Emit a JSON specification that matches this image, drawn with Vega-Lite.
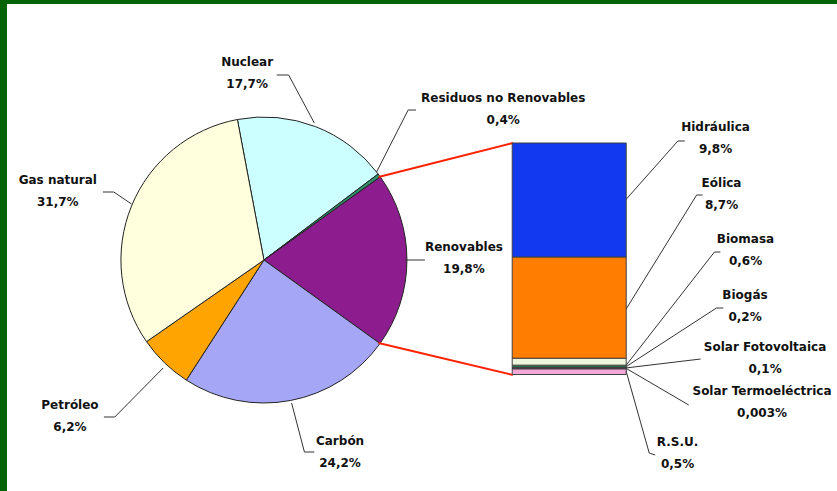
{
  "$schema": "https://vega.github.io/schema/vega-lite/v6.json",
  "width": 830,
  "height": 487,
  "autosize": {"type": "none"},
  "padding": {"left": 7, "top": 4, "right": 0, "bottom": 0},
  "background": "#066306",
  "config": {
    "view": {"fill": "white", "stroke": null},
    "axis": {"disable": true},
    "legend": {"disable": true},
    "text": {"font": "DejaVu Sans", "fontWeight": "bold", "fontSize": 12, "lineBreak": "\n", "lineHeight": 22, "align": "center", "baseline": "middle", "color": "#111111"}
  },
  "datasets": {
    "pie": [
      {"name": "Nuclear", "pct": 17.7, "ord": 1, "label": "Nuclear\n17,7%"},
      {"name": "Residuos no Renovables", "pct": 0.4, "ord": 2, "label": "Residuos no Renovables\n0,4%"},
      {"name": "Renovables", "pct": 19.8, "ord": 3, "label": "Renovables\n19,8%"},
      {"name": "Carbón", "pct": 24.2, "ord": 4, "label": "Carbón\n24,2%"},
      {"name": "Petróleo", "pct": 6.2, "ord": 5, "label": "Petróleo\n6,2%"},
      {"name": "Gas natural", "pct": 31.7, "ord": 6, "label": "Gas natural\n31,7%"}
    ],
    "bar": [
      {"name": "R.S.U.", "pct": 0.5, "ord": 1, "label": "R.S.U.\n0,5%"},
      {"name": "Solar Termoeléctrica", "pct": 0.003, "ord": 2, "label": "Solar Termoeléctrica\n0,003%"},
      {"name": "Solar Fotovoltaica", "pct": 0.1, "ord": 3, "label": "Solar Fotovoltaica\n0,1%"},
      {"name": "Biogás", "pct": 0.2, "ord": 4, "label": "Biogás\n0,2%"},
      {"name": "Biomasa", "pct": 0.6, "ord": 5, "label": "Biomasa\n0,6%"},
      {"name": "Eólica", "pct": 8.7, "ord": 6, "label": "Eólica\n8,7%"},
      {"name": "Hidráulica", "pct": 9.8, "ord": 7, "label": "Hidráulica\n9,8%"}
    ]
  },
  "resolve": {"scale": {"y": "independent", "color": "independent"}},
  "layer": [
    {
      "layer": [
        {
          "data": {"name": "pie"},
          "mark": {"type": "arc", "outerRadius": 143, "stroke": "#222222", "strokeWidth": 1},
          "encoding": {
            "x": {"datum": 262, "type": "quantitative", "scale": {"domain": [7, 837], "nice": false, "zero": false}, "axis": null},
            "y": {"datum": 260, "type": "quantitative", "scale": {"domain": [4, 491], "nice": false, "zero": false, "reverse": true}, "axis": null},
            "theta": {"field": "pct", "type": "quantitative", "stack": true, "scale": {"range": [-0.18675, 6.09644]}},
            "order": {"field": "ord", "type": "quantitative"},
            "color": {
              "field": "name", "type": "nominal", "legend": null,
              "scale": {
                "domain": ["Nuclear", "Residuos no Renovables", "Renovables", "Carbón", "Petróleo", "Gas natural"],
                "range": ["#ccffff", "#2f8f6a", "#8d1c8e", "#a6a6f6", "#ffa400", "#ffffdd"]
              }
            }
          }
        },
        {
          "data": {"name": "pie"},
          "mark": {"type": "text", "radius": 200, "dx": -89, "dy": -11},
          "encoding": {
            "x": {"datum": 262, "type": "quantitative"},
            "y": {"datum": 260, "type": "quantitative"},
            "theta": {"field": "pct", "type": "quantitative", "stack": true},
            "order": {"field": "ord", "type": "quantitative"},
            "detail": {"field": "name"},
            "text": {"condition": {"test": "datum.name === 'Nuclear'", "field": "label"}, "value": ""}
          }
        },
        {
          "data": {"name": "pie"},
          "mark": {"type": "text", "radius": 200, "dx": 78, "dy": -44},
          "encoding": {
            "x": {"datum": 262, "type": "quantitative"},
            "y": {"datum": 260, "type": "quantitative"},
            "theta": {"field": "pct", "type": "quantitative", "stack": true},
            "order": {"field": "ord", "type": "quantitative"},
            "detail": {"field": "name"},
            "text": {"condition": {"test": "datum.name === 'Residuos no Renovables'", "field": "label"}, "value": ""}
          }
        },
        {
          "data": {"name": "pie"},
          "mark": {"type": "text", "radius": 200, "dx": 0, "dy": -13},
          "encoding": {
            "x": {"datum": 262, "type": "quantitative"},
            "y": {"datum": 260, "type": "quantitative"},
            "theta": {"field": "pct", "type": "quantitative", "stack": true},
            "order": {"field": "ord", "type": "quantitative"},
            "detail": {"field": "name"},
            "text": {"condition": {"test": "datum.name === 'Renovables'", "field": "label"}, "value": ""}
          }
        },
        {
          "data": {"name": "pie"},
          "mark": {"type": "text", "radius": 200, "dx": 39, "dy": -16},
          "encoding": {
            "x": {"datum": 262, "type": "quantitative"},
            "y": {"datum": 260, "type": "quantitative"},
            "theta": {"field": "pct", "type": "quantitative", "stack": true},
            "order": {"field": "ord", "type": "quantitative"},
            "detail": {"field": "name"},
            "text": {"condition": {"test": "datum.name === 'Carbón'", "field": "label"}, "value": ""}
          }
        },
        {
          "data": {"name": "pie"},
          "mark": {"type": "text", "radius": 200, "dx": -55, "dy": 1},
          "encoding": {
            "x": {"datum": 262, "type": "quantitative"},
            "y": {"datum": 260, "type": "quantitative"},
            "theta": {"field": "pct", "type": "quantitative", "stack": true},
            "order": {"field": "ord", "type": "quantitative"},
            "detail": {"field": "name"},
            "text": {"condition": {"test": "datum.name === 'Petróleo'", "field": "label"}, "value": ""}
          }
        },
        {
          "data": {"name": "pie"},
          "mark": {"type": "text", "radius": 200, "dx": -21, "dy": -4},
          "encoding": {
            "x": {"datum": 262, "type": "quantitative"},
            "y": {"datum": 260, "type": "quantitative"},
            "theta": {"field": "pct", "type": "quantitative", "stack": true},
            "order": {"field": "ord", "type": "quantitative"},
            "detail": {"field": "name"},
            "text": {"condition": {"test": "datum.name === 'Gas natural'", "field": "label"}, "value": ""}
          }
        },
        {"data": {"name": "pie"}, "transform": [{"filter": "datum.name === 'Renovables'"}], "mark": {"type": "rule", "color": "#ff2200", "strokeWidth": 2}, "encoding": {"x": {"datum": 378, "type": "quantitative"}, "y": {"datum": 177, "type": "quantitative"}, "x2": {"datum": 514}, "y2": {"datum": 143}}},
        {"data": {"name": "pie"}, "transform": [{"filter": "datum.name === 'Renovables'"}], "mark": {"type": "rule", "color": "#ff2200", "strokeWidth": 2}, "encoding": {"x": {"datum": 378, "type": "quantitative"}, "y": {"datum": 343, "type": "quantitative"}, "x2": {"datum": 514}, "y2": {"datum": 375}}},
        {"data": {"name": "pie"}, "transform": [{"filter": "datum.name === 'Nuclear'"}], "mark": {"type": "rule", "color": "#333333"}, "encoding": {"x": {"datum": 313, "type": "quantitative"}, "y": {"datum": 123, "type": "quantitative"}, "x2": {"datum": 287}, "y2": {"datum": 75}}},
        {"data": {"name": "pie"}, "transform": [{"filter": "datum.name === 'Nuclear'"}], "mark": {"type": "rule", "color": "#333333"}, "encoding": {"x": {"datum": 287, "type": "quantitative"}, "y": {"datum": 75, "type": "quantitative"}, "x2": {"datum": 275}, "y2": {"datum": 75}}},
        {"data": {"name": "pie"}, "transform": [{"filter": "datum.name === 'Residuos no Renovables'"}], "mark": {"type": "rule", "color": "#333333"}, "encoding": {"x": {"datum": 376, "type": "quantitative"}, "y": {"datum": 172, "type": "quantitative"}, "x2": {"datum": 408}, "y2": {"datum": 110}}},
        {"data": {"name": "pie"}, "transform": [{"filter": "datum.name === 'Residuos no Renovables'"}], "mark": {"type": "rule", "color": "#333333"}, "encoding": {"x": {"datum": 408, "type": "quantitative"}, "y": {"datum": 110, "type": "quantitative"}, "x2": {"datum": 416}, "y2": {"datum": 110}}},
        {"data": {"name": "pie"}, "transform": [{"filter": "datum.name === 'Renovables'"}], "mark": {"type": "rule", "color": "#333333"}, "encoding": {"x": {"datum": 405, "type": "quantitative"}, "y": {"datum": 260, "type": "quantitative"}, "x2": {"datum": 425}, "y2": {"datum": 260}}},
        {"data": {"name": "pie"}, "transform": [{"filter": "datum.name === 'Carbón'"}], "mark": {"type": "rule", "color": "#333333"}, "encoding": {"x": {"datum": 290, "type": "quantitative"}, "y": {"datum": 403, "type": "quantitative"}, "x2": {"datum": 303}, "y2": {"datum": 452}}},
        {"data": {"name": "pie"}, "transform": [{"filter": "datum.name === 'Carbón'"}], "mark": {"type": "rule", "color": "#333333"}, "encoding": {"x": {"datum": 303, "type": "quantitative"}, "y": {"datum": 452, "type": "quantitative"}, "x2": {"datum": 313}, "y2": {"datum": 452}}},
        {"data": {"name": "pie"}, "transform": [{"filter": "datum.name === 'Petróleo'"}], "mark": {"type": "rule", "color": "#333333"}, "encoding": {"x": {"datum": 160, "type": "quantitative"}, "y": {"datum": 368, "type": "quantitative"}, "x2": {"datum": 111}, "y2": {"datum": 417}}},
        {"data": {"name": "pie"}, "transform": [{"filter": "datum.name === 'Petróleo'"}], "mark": {"type": "rule", "color": "#333333"}, "encoding": {"x": {"datum": 111, "type": "quantitative"}, "y": {"datum": 417, "type": "quantitative"}, "x2": {"datum": 100}, "y2": {"datum": 417}}},
        {"data": {"name": "pie"}, "transform": [{"filter": "datum.name === 'Gas natural'"}], "mark": {"type": "rule", "color": "#333333"}, "encoding": {"x": {"datum": 128, "type": "quantitative"}, "y": {"datum": 204, "type": "quantitative"}, "x2": {"datum": 110}, "y2": {"datum": 192}}},
        {"data": {"name": "pie"}, "transform": [{"filter": "datum.name === 'Gas natural'"}], "mark": {"type": "rule", "color": "#333333"}, "encoding": {"x": {"datum": 110, "type": "quantitative"}, "y": {"datum": 192, "type": "quantitative"}, "x2": {"datum": 99}, "y2": {"datum": 192}}},
        {"data": {"name": "bar"}, "transform": [{"filter": "datum.name === 'Hidráulica'"}], "mark": {"type": "rule", "color": "#333333"}, "encoding": {"x": {"datum": 628, "type": "quantitative"}, "y": {"datum": 200, "type": "quantitative"}, "x2": {"datum": 681}, "y2": {"datum": 141}}},
        {"data": {"name": "bar"}, "transform": [{"filter": "datum.name === 'Hidráulica'"}], "mark": {"type": "rule", "color": "#333333"}, "encoding": {"x": {"datum": 681, "type": "quantitative"}, "y": {"datum": 141, "type": "quantitative"}, "x2": {"datum": 688}, "y2": {"datum": 141}}},
        {"data": {"name": "bar"}, "transform": [{"filter": "datum.name === 'Eólica'"}], "mark": {"type": "rule", "color": "#333333"}, "encoding": {"x": {"datum": 628, "type": "quantitative"}, "y": {"datum": 310, "type": "quantitative"}, "x2": {"datum": 700}, "y2": {"datum": 195}}},
        {"data": {"name": "bar"}, "transform": [{"filter": "datum.name === 'Eólica'"}], "mark": {"type": "rule", "color": "#333333"}, "encoding": {"x": {"datum": 700, "type": "quantitative"}, "y": {"datum": 195, "type": "quantitative"}, "x2": {"datum": 706}, "y2": {"datum": 195}}},
        {"data": {"name": "bar"}, "transform": [{"filter": "datum.name === 'Biomasa'"}], "mark": {"type": "rule", "color": "#333333"}, "encoding": {"x": {"datum": 628, "type": "quantitative"}, "y": {"datum": 366, "type": "quantitative"}, "x2": {"datum": 718}, "y2": {"datum": 252}}},
        {"data": {"name": "bar"}, "transform": [{"filter": "datum.name === 'Biomasa'"}], "mark": {"type": "rule", "color": "#333333"}, "encoding": {"x": {"datum": 718, "type": "quantitative"}, "y": {"datum": 252, "type": "quantitative"}, "x2": {"datum": 724}, "y2": {"datum": 252}}},
        {"data": {"name": "bar"}, "transform": [{"filter": "datum.name === 'Biogás'"}], "mark": {"type": "rule", "color": "#333333"}, "encoding": {"x": {"datum": 628, "type": "quantitative"}, "y": {"datum": 367, "type": "quantitative"}, "x2": {"datum": 720}, "y2": {"datum": 308}}},
        {"data": {"name": "bar"}, "transform": [{"filter": "datum.name === 'Biogás'"}], "mark": {"type": "rule", "color": "#333333"}, "encoding": {"x": {"datum": 720, "type": "quantitative"}, "y": {"datum": 308, "type": "quantitative"}, "x2": {"datum": 727}, "y2": {"datum": 308}}},
        {"data": {"name": "bar"}, "transform": [{"filter": "datum.name === 'Solar Fotovoltaica'"}], "mark": {"type": "rule", "color": "#333333"}, "encoding": {"x": {"datum": 628, "type": "quantitative"}, "y": {"datum": 368, "type": "quantitative"}, "x2": {"datum": 704}, "y2": {"datum": 359}}},
        {"data": {"name": "bar"}, "transform": [{"filter": "datum.name === 'Solar Termoeléctrica'"}], "mark": {"type": "rule", "color": "#333333"}, "encoding": {"x": {"datum": 628, "type": "quantitative"}, "y": {"datum": 368, "type": "quantitative"}, "x2": {"datum": 692}, "y2": {"datum": 405}}},
        {"data": {"name": "bar"}, "transform": [{"filter": "datum.name === 'R.S.U.'"}], "mark": {"type": "rule", "color": "#333333"}, "encoding": {"x": {"datum": 628, "type": "quantitative"}, "y": {"datum": 369, "type": "quantitative"}, "x2": {"datum": 652}, "y2": {"datum": 453}}},
        {"data": {"name": "bar"}, "transform": [{"filter": "datum.name === 'R.S.U.'"}], "mark": {"type": "rule", "color": "#333333"}, "encoding": {"x": {"datum": 652, "type": "quantitative"}, "y": {"datum": 453, "type": "quantitative"}, "x2": {"datum": 658}, "y2": {"datum": 455}}}
      ]
    },
    {
      "layer": [
        {
          "data": {"name": "bar"},
          "mark": {"type": "bar", "orient": "vertical", "width": 114, "stroke": "#404040", "strokeWidth": 1},
          "encoding": {
            "x": {"datum": 571, "type": "quantitative"},
            "y": {"field": "pct", "type": "quantitative", "stack": "zero", "scale": {"domain": [-10.016, 31.852], "nice": false, "zero": false}, "axis": null},
            "order": {"field": "ord", "type": "quantitative"},
            "color": {
              "field": "name", "type": "nominal", "legend": null,
              "scale": {
                "domain": ["R.S.U.", "Solar Termoeléctrica", "Solar Fotovoltaica", "Biogás", "Biomasa", "Eólica", "Hidráulica"],
                "range": ["#f5a8d8", "#cc3333", "#7a2589", "#2a6e46", "#eef7dd", "#ff7d00", "#1238f0"]
              }
            }
          }
        },
        {"data": {"name": "bar"}, "mark": {"type": "text", "dx": 90, "dy": -72.5}, "encoding": {"x": {"datum": 628, "type": "quantitative"}, "y": {"field": "pct", "type": "quantitative", "stack": "zero", "bandPosition": 0.5}, "order": {"field": "ord", "type": "quantitative"}, "detail": {"field": "name"}, "text": {"condition": {"test": "datum.name === 'Hidráulica'", "field": "label"}, "value": ""}}},
        {"data": {"name": "bar"}, "mark": {"type": "text", "dx": 96, "dy": -124.6}, "encoding": {"x": {"datum": 628, "type": "quantitative"}, "y": {"field": "pct", "type": "quantitative", "stack": "zero", "bandPosition": 0.5}, "order": {"field": "ord", "type": "quantitative"}, "detail": {"field": "name"}, "text": {"condition": {"test": "datum.name === 'Eólica'", "field": "label"}, "value": ""}}},
        {"data": {"name": "bar"}, "mark": {"type": "text", "dx": 120, "dy": -122.2}, "encoding": {"x": {"datum": 628, "type": "quantitative"}, "y": {"field": "pct", "type": "quantitative", "stack": "zero", "bandPosition": 0.5}, "order": {"field": "ord", "type": "quantitative"}, "detail": {"field": "name"}, "text": {"condition": {"test": "datum.name === 'Biomasa'", "field": "label"}, "value": ""}}},
        {"data": {"name": "bar"}, "mark": {"type": "text", "dx": 119.5, "dy": -71.3}, "encoding": {"x": {"datum": 628, "type": "quantitative"}, "y": {"field": "pct", "type": "quantitative", "stack": "zero", "bandPosition": 0.5}, "order": {"field": "ord", "type": "quantitative"}, "detail": {"field": "name"}, "text": {"condition": {"test": "datum.name === 'Biogás'", "field": "label"}, "value": ""}}},
        {"data": {"name": "bar"}, "mark": {"type": "text", "dx": 139.5, "dy": -21.1}, "encoding": {"x": {"datum": 628, "type": "quantitative"}, "y": {"field": "pct", "type": "quantitative", "stack": "zero", "bandPosition": 0.5}, "order": {"field": "ord", "type": "quantitative"}, "detail": {"field": "name"}, "text": {"condition": {"test": "datum.name === 'Solar Fotovoltaica'", "field": "label"}, "value": ""}}},
        {"data": {"name": "bar"}, "mark": {"type": "text", "dx": 136.5, "dy": 22.8}, "encoding": {"x": {"datum": 628, "type": "quantitative"}, "y": {"field": "pct", "type": "quantitative", "stack": "zero", "bandPosition": 0.5}, "order": {"field": "ord", "type": "quantitative"}, "detail": {"field": "name"}, "text": {"condition": {"test": "datum.name === 'Solar Termoeléctrica'", "field": "label"}, "value": ""}}},
        {"data": {"name": "bar"}, "mark": {"type": "text", "dx": 52, "dy": 70.9}, "encoding": {"x": {"datum": 628, "type": "quantitative"}, "y": {"field": "pct", "type": "quantitative", "stack": "zero", "bandPosition": 0.5}, "order": {"field": "ord", "type": "quantitative"}, "detail": {"field": "name"}, "text": {"condition": {"test": "datum.name === 'R.S.U.'", "field": "label"}, "value": ""}}}
      ]
    }
  ]
}
